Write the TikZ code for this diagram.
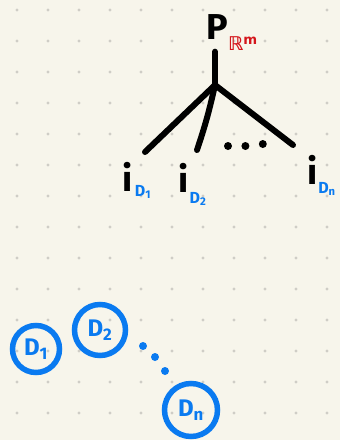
\documentclass[tikz,border=0pt]{standalone}
\usepackage{fontspec}
\setsansfont{Fira Sans}
\newfontfamily\symfont{DejaVu Sans}
\usepackage{tikz}
\usetikzlibrary{positioning}
\definecolor{paper}{HTML}{F7F5EB}
\definecolor{griddot}{HTML}{CFCDC6}
\definecolor{penblue}{HTML}{0A7AF0}
\definecolor{penred}{HTML}{D4151B}

\begin{document}
\begin{tikzpicture}[
    x=1pt, y=-1pt,
    branch/.style={line width=6pt, line cap=round, black},
    dset/.style={circle, draw=penblue, line width=5.5pt, inner sep=0pt, text=penblue, font=\sffamily\bfseries\fontsize{24}{26}\selectfont},
    elem/.style={inner sep=0pt, font=\sffamily\bfseries\fontsize{36}{40}\selectfont},
    sublabel/.style={inner sep=0pt, text=penblue, font=\sffamily\bfseries\fontsize{16}{18}\selectfont},
    pip/.style={circle, fill, inner sep=0pt, minimum size=8pt},
]
    % Paper
    \fill[paper] (0,0) rectangle (340,440);
    \foreach \i in {0,...,10}
        \foreach \j in {0,...,13}
            \fill[griddot] (17+31*\i, 10+31*\j) circle (1.6);

    % Product and its space
    \node[elem] (prob) at (217,27) {P};
    \node[inner sep=0pt, anchor=west, text=penred, font=\symfont\bfseries\fontsize{19}{20}\selectfont] (space) at (228,44) {ℝ\textsuperscript{m}};

    % Tree
    \coordinate (fork) at (215,85);
    \coordinate (end1) at (145,152);
    \coordinate (end2) at (197,150);
    \coordinate (endn) at (293,145);
    \draw[branch] (prob.south) ++(-2,12) -- (fork);
    \draw[branch] (fork) -- (end1);
    \draw[branch] (fork) to[bend left=3] (end2);
    \draw[branch] (fork) -- (endn);
    \node[pip] (dota) at (228,146) {};
    \node[pip, right=9pt of dota] (dotb) {};
    \node[pip, right=9pt of dotb, yshift=2pt] (dotc) {};

    % Embeddings
    \node[elem] (emb1) at (128,177) {i};
    \node[elem] (emb2) at (184,178) {i};
    \node[elem] (embn) at (313,170) {i};
    \node[sublabel] at (143,192) {D\textsubscript{1}};
    \node[sublabel] at (198,199) {D\textsubscript{2}};
    \node[sublabel] at (327,189) {D\textsubscript{n}};

    % Data sets
    \node[dset, minimum size=47pt] (d1) at (36,349) {D\textsubscript{1}};
    \node[dset, minimum size=51pt] (d2) at (100,330) {D\textsubscript{2}};
    \node[dset, minimum size=53pt] (dn) at (191,410) {D\textsubscript{n}};
    \node[pip, penblue] (bdota) at (143,346) {};
    \node[pip, penblue] (bdotb) at (155,357) {};
    \node[pip, penblue] (bdotc) at (165,371) {};
\end{tikzpicture}
\end{document}
